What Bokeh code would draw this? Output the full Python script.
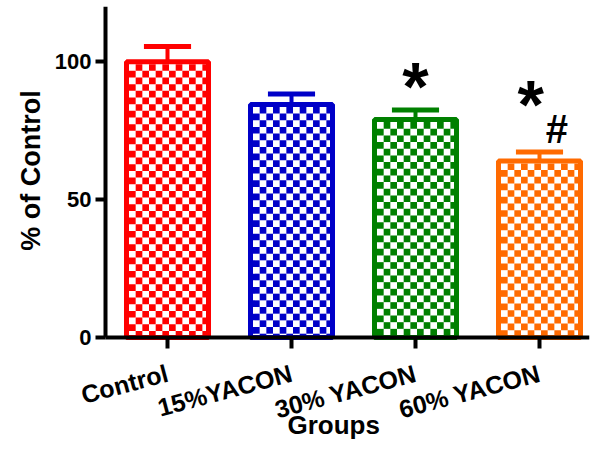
import math
from bokeh.plotting import figure
from bokeh.models import Range1d, FixedTicker, ColumnDataSource, Label
from bokeh.embed import file_html
from bokeh.resources import INLINE

# ---- data ----
groups = ["Control", "15%YACON", "30% YACON", "60% YACON"]
means = [100.0, 84.5, 79.0, 64.0]
errors = [5.5, 3.8, 3.5, 3.2]
colors = ["#FF0000", "#0000C8", "#008000", "#FF6A00"]
y_ticks = [0, 50, 100]
ann_x = [2.0, 2.93, 3.14]
ann_y = [91.0, 84.5, 75.7]
ann_text = ["*", "*", "#"]
ann_size = ["68px", "68px", "40px"]

# ---- layout ----
W, H = 590, 441
T = 6
PX_X = 124.0
PX_Y = 2.758
AX_X = -0.5            # x position of the value axis
X0 = AX_X - 105 / PX_X
X1 = X0 + (W - 1) / PX_X
Y1 = 120
Y0 = Y1 - (H - T) / PX_Y
FONT = "Liberation Sans"

p = figure(width=W, height=H, x_range=Range1d(X0, X1), y_range=Range1d(Y0, Y1),
           output_backend="svg", toolbar_location=None,
           min_border_left=0, min_border_right=1, min_border_top=T, min_border_bottom=0)
p.outline_line_color = None
p.xgrid.visible = False
p.ygrid.visible = False
p.background_fill_color = "white"
p.border_fill_color = "white"

bar_w = 82 / PX_X
lw = 5
xs = list(range(len(groups)))
tops = [m + e for m, e in zip(means, errors)]

# error bars (upper only)
cap_half = 0.19
p.segment(x0=xs, y0=means, x1=xs, y1=tops, line_color=colors, line_width=4)
p.segment(x0=[x - cap_half for x in xs], y0=tops,
          x1=[x + cap_half for x in xs], y1=tops,
          line_color=colors, line_width=5)

# bars: white fill with coloured outline
p.vbar(x=xs, top=means, bottom=0, width=bar_w, fill_color="white",
       line_color=colors, line_width=lw)

# checkerboard fill
cell_px = 6.67
cx = cell_px / PX_X
cy = cell_px / PX_Y
bx = (lw / 2) / PX_X
by = (lw / 2) / PX_Y
ql, qr, qt, qb, qc = [], [], [], [], []
for i, (m, c) in enumerate(zip(means, colors)):
    left = i - bar_w / 2 + bx
    right = i + bar_w / 2 - bx
    top = m - by
    ncols = math.ceil((right - left) / cx)
    nrows = math.ceil(top / cy)
    for r in range(nrows):
        for k in range(ncols):
            if (r + k) % 2 == 1:
                ql.append(left + k * cx)
                qr.append(min(right, left + (k + 1) * cx))
                qt.append(top - r * cy)
                qb.append(max(0, top - (r + 1) * cy))
                qc.append(c)
p.quad(left=ql, right=qr, top=qt, bottom=qb, fill_color=qc, line_color=None)

# significance marks
src = ColumnDataSource(dict(x=ann_x, y=ann_y, t=ann_text, s=ann_size))
p.text(x="x", y="y", text="t", text_font_size="s", source=src,
       text_align="center", text_baseline="middle", text_font_style="bold",
       text_color="black", text_font={"value": FONT})

# axes
for ax in (p.xaxis[0], p.yaxis[0]):
    ax.axis_line_width = 4
    ax.axis_line_color = "black"
    ax.major_tick_line_width = 4
    ax.major_tick_line_color = "black"
    ax.major_tick_in = 0
    ax.minor_tick_line_color = None
    ax.major_label_text_font = FONT
    ax.major_label_text_font_style = "bold"
    ax.major_label_text_color = "black"

p.yaxis.fixed_location = AX_X
p.yaxis.ticker = FixedTicker(ticks=y_ticks)
p.yaxis.bounds = (0, Y1)
p.yaxis.major_tick_out = 10
p.yaxis.major_label_text_font_size = "22px"
p.yaxis.major_label_standoff = 4

p.xaxis.fixed_location = 0
p.xaxis.bounds = (AX_X, X1)
p.xaxis.ticker = FixedTicker(ticks=xs)
p.xaxis.major_label_overrides = {i: g for i, g in enumerate(groups)}
p.xaxis.major_tick_out = 11
p.xaxis.major_label_text_font_size = "25px"
p.xaxis.major_label_orientation = 0.26
p.xaxis.major_label_standoff = 24

# axis titles
p.add_layout(Label(x=AX_X - 75 / PX_X, y=60.5, text="% of Control", angle=math.pi / 2,
                   text_align="center", text_baseline="middle", text_font=FONT,
                   text_font_size="27px", text_font_style="bold", text_color="black"))
p.add_layout(Label(x=1.34, y=-31.9, text="Groups", text_align="center",
                   text_baseline="middle", text_font=FONT, text_font_size="26px",
                   text_font_style="bold", text_color="black"))

open("out.html", "w").write(file_html(p, INLINE))
